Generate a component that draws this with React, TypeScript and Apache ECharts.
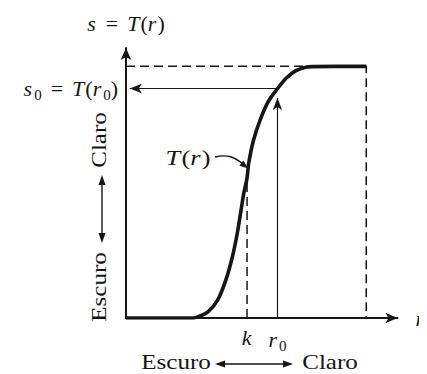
import React, { useEffect, useRef } from "react";
import * as echarts from "echarts";

// ---- data ----
const rValues = [0, 24.8, 26.6, 30.2, 33.8, 36.8, 39.2, 41.0, 42.2, 43.4, 44.6, 45.2, 47.0, 49.4, 52.4, 55.4, 59.0, 62.6, 66.2, 69.1, 77.0, 88.5];
const sValues = [0, 0, 0.5, 2.3, 6.7, 14.1, 22.7, 31.4, 38.8, 46.2, 51.9, 57.3, 65.9, 73.3, 80.1, 84.4, 88.8, 91.6, 92.9, 93.1, 93.2, 93.2];
const K_VALUE = 44.6;
const K_DASH_TOP = 50;
const R0_VALUE = 55.8;
const S0_VALUE = 85;
const S_MAX = 93.2;
const R_END = 88.5;
const R0_ARROW_TOP = 81.5;
const S0_ARROW_END = 1.4;
const xTickValues = [K_VALUE, R0_VALUE];
const xTickLabels = ["{i|k}", "{i|r}{sub|0}"];
const yTickValues = [S0_VALUE];
const yTickLabels = ["{i|s}{sub|0}{eq|=}{i|T}{n|(}{i|r}{sub|0}{n|)}"];

const SERIF = '"Liberation Serif", "Times New Roman", serif';
const INK = "#161616";

const richStyles = {
  i: { fontFamily: SERIF, fontStyle: "italic", fontSize: 22, color: INK, padding: [0, 1, 0, 0] },
  n: { fontFamily: SERIF, fontSize: 22, color: INK },
  eq: { fontFamily: SERIF, fontSize: 22, color: INK, padding: [0, 9, 0, 9] },
  sub: { fontFamily: SERIF, fontSize: 15, color: INK, padding: [12, 0, 0, 1] },
};

function arrowHead(tipX: number, tipY: number, dx: number, dy: number, len = 10, half = 3.5) {
  const bx = tipX - dx * len;
  const by = tipY - dy * len;
  const px = -dy * half;
  const py = dx * half;
  return {
    type: "polygon",
    shape: { points: [[tipX, tipY], [bx + px, by + py], [bx - px, by - py]] },
    style: { fill: INK },
    silent: true,
  };
}

export default function App() {
  const ref = useRef<HTMLDivElement>(null);
  useEffect(() => {
    if (!ref.current) return;
    const chart = echarts.init(ref.current, null, { renderer: "svg" });
    const curve = rValues.map((r, i) => [r, sValues[i]]);
    const dashStyle = { color: INK, width: 1.5, type: [9, 5] };
    const bigText = (text: string, x: number, y: number, rot = 0) => ({
      type: "text",
      x,
      y,
      rotation: rot,
      scaleX: 1.14,
      silent: true,
      style: {
        text,
        fontFamily: SERIF,
        fontSize: 22,
        fill: INK,
        align: "center",
        verticalAlign: "middle",
      },
    });
    chart.setOption({
      animation: false,
      backgroundColor: "#ffffff",
      grid: { left: 126, right: 23, top: 48, bottom: 56 },
      xAxis: {
        type: "value",
        min: 0,
        max: 100,
        splitLine: { show: false },
        axisTick: { show: false },
        axisLine: { lineStyle: { color: INK, width: 2 }, symbol: ["none", "arrow"], symbolSize: [8, 12] },
        axisLabel: {
          customValues: xTickValues,
          formatter: (v: number) => xTickLabels[xTickValues.indexOf(v)] ?? "",
          rich: richStyles,
          margin: 8,
        },
        name: "{i|r}",
        nameLocation: "end",
        nameGap: 18,
        nameTextStyle: { rich: richStyles, verticalAlign: "middle" },
      },
      yAxis: {
        type: "value",
        min: 0,
        max: 100,
        splitLine: { show: false },
        axisTick: { show: false },
        axisLine: { lineStyle: { color: INK, width: 2 }, symbol: ["none", "arrow"], symbolSize: [8, 12] },
        axisLabel: {
          customValues: yTickValues,
          formatter: (v: number) => yTickLabels[yTickValues.indexOf(v)] ?? "",
          rich: richStyles,
          margin: 8,
        },
        name: "{i|s}{eq|=}{i|T}{n|(}{i|r}{n|)}",
        nameLocation: "end",
        nameGap: 14,
        nameTextStyle: { rich: richStyles, align: "center" },
      },
      series: [
        {
          type: "line",
          data: [[0, S_MAX], [R_END, S_MAX], [R_END, 0]],
          symbol: "none",
          lineStyle: dashStyle,
          silent: true,
          z: 2,
        },
        {
          type: "line",
          data: [[K_VALUE, 0], [K_VALUE, K_DASH_TOP]],
          symbol: "none",
          lineStyle: dashStyle,
          silent: true,
          z: 2,
        },
        {
          type: "line",
          data: [],
          silent: true,
          z: 3,
          markLine: {
            silent: true,
            symbol: ["none", "arrow"],
            symbolSize: [7, 12],
            label: { show: false },
            lineStyle: { color: INK, width: 1.2, type: "solid" },
            emphasis: { disabled: true },
            data: [
              [{ coord: [R0_VALUE, 0] }, { coord: [R0_VALUE, R0_ARROW_TOP] }],
              [{ coord: [R0_VALUE, S0_VALUE] }, { coord: [S0_ARROW_END, S0_VALUE] }],
            ],
          },
        },
        {
          type: "line",
          data: curve,
          smooth: 0.3,
          symbol: "none",
          lineStyle: { color: INK, width: 3.6 },
          silent: true,
          z: 5,
        },
      ],
      graphic: [
        bigText("Claro", 99, 140, Math.PI / 2),
        bigText("Escuro", 99, 287, Math.PI / 2),
        { type: "line", shape: { x1: 102, y1: 183, x2: 102, y2: 235 }, style: { stroke: INK, lineWidth: 1.4 }, silent: true },
        arrowHead(102, 175, 0, -1),
        arrowHead(102, 243, 0, 1),
        bigText("Escuro", 176, 362),
        bigText("Claro", 330, 362),
        { type: "line", shape: { x1: 223, y1: 364, x2: 285, y2: 364 }, style: { stroke: INK, lineWidth: 1.4 }, silent: true },
        arrowHead(215, 364, -1, 0),
        arrowHead(293, 364, 1, 0),
        {
          type: "text",
          x: 188,
          y: 157,
          scaleX: 1.2,
          silent: true,
          style: {
            text: "{i|T}{n|(}{i|r}{n|)}",
            rich: {
              i: { fontFamily: SERIF, fontStyle: "italic", fontSize: 22, fill: INK, padding: [0, 1, 0, 0] },
              n: { fontFamily: SERIF, fontSize: 22, fill: INK },
            },
            align: "center",
            verticalAlign: "middle",
          },
        },
        {
          type: "bezierCurve",
          shape: { x1: 215, y1: 157, cpx1: 228, cpy1: 154, cpx2: 234, cpy2: 157, x2: 243, y2: 164 },
          style: { stroke: INK, lineWidth: 1.4, fill: "none" },
          silent: true,
        },
        arrowHead(248.5, 168.5, 0.8, 0.6, 9, 3.2),
      ],
    });
    return () => chart.dispose();
  }, []);
  return <div ref={ref} style={{ width: 427, height: 374, marginLeft: -8, marginTop: -8 }} />;
}
